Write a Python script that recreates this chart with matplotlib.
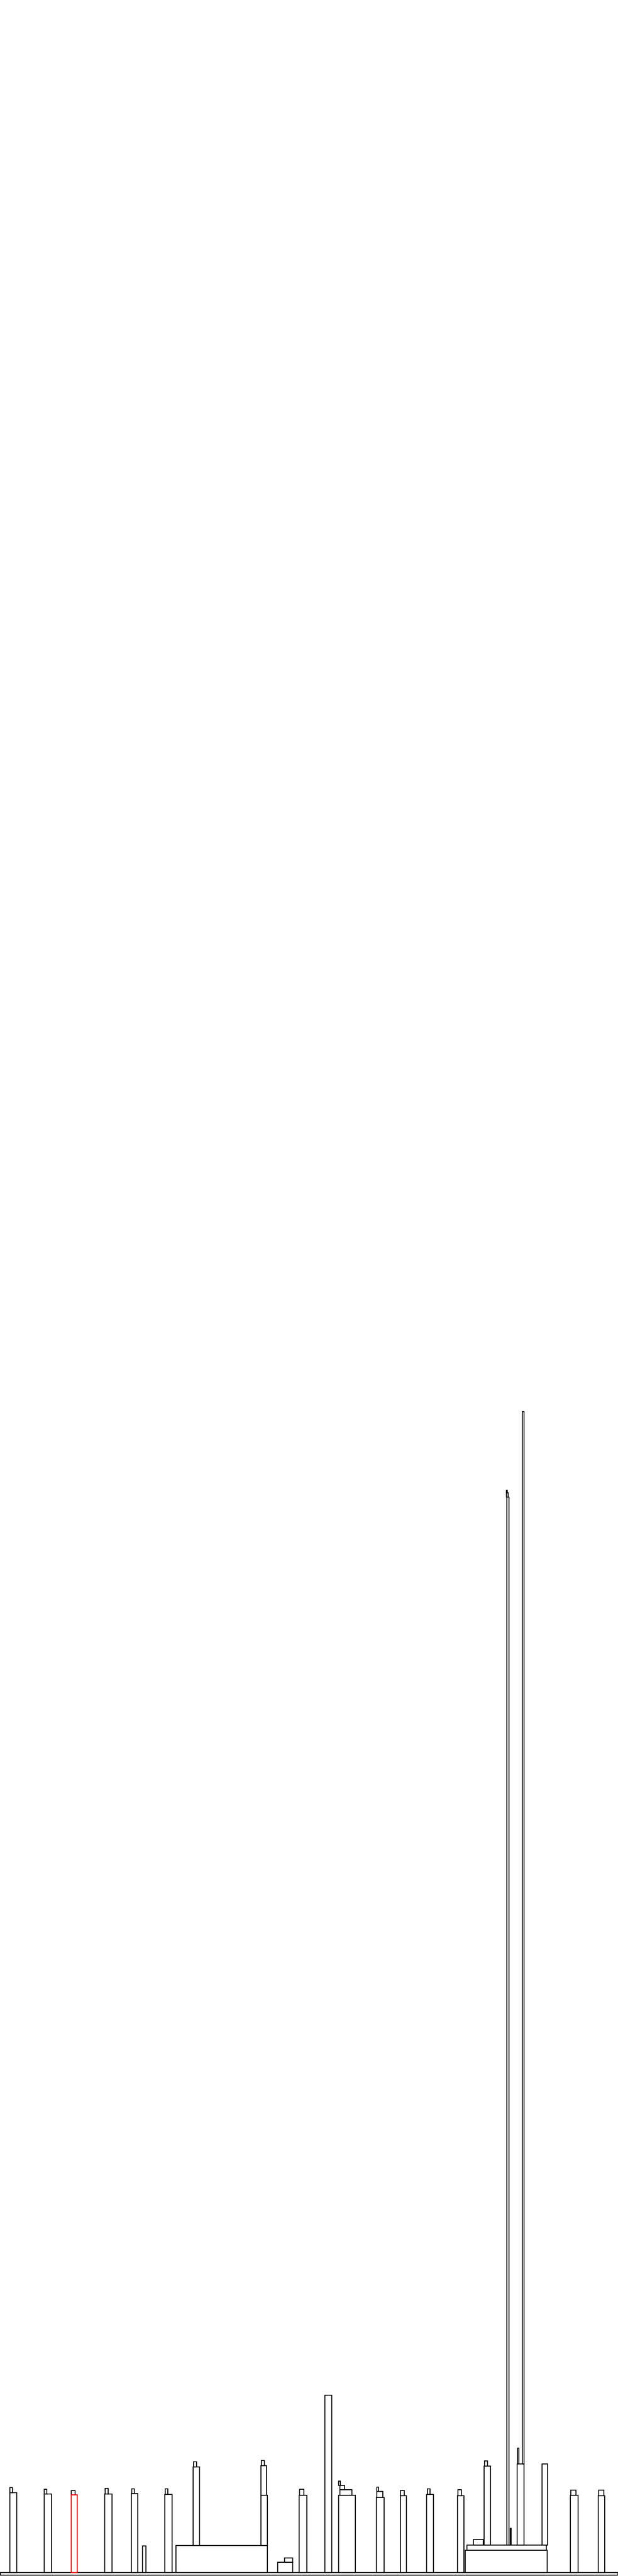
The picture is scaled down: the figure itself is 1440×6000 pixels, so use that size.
import matplotlib
matplotlib.use("Agg")
import matplotlib.pyplot as plt

# Frames of the icicle/flame-style chart (x from left, y upward from bottom)
frame_x0 = [0.5,
            23, 23.3, 103, 103.3, 166, 165.7, 244, 245, 306, 306.7, 332, 384, 385,
            410, 450, 450.7, 608, 608, 609,
            647, 663,
            697, 698.3, 757, 789, 791.7, 791.7, 789.3,
            877, 877.7, 877.7, 933, 933.3, 994, 995.7, 1066, 1066.7,
            1084, 1087.7, 1102.7, 1128.3, 1129.3,
            1180.8, 1179.5, 1179.5, 1188.5,
            1205, 1216.5, 1206, 1263.3,
            1329, 1330, 1394, 1395]
frame_x1 = [1439.5,
            39, 29.3, 120, 109.3, 180, 175, 261, 252.3, 321, 313.3, 340, 401, 391,
            623, 465, 458.3, 623, 621, 616,
            682, 682,
            715, 708.3, 773, 828, 820, 803.3, 793.3,
            895, 891.7, 882.3, 947, 941.7, 1010, 1001.7, 1081, 1075,
            1275, 1273.3, 1125.7, 1142.7, 1135.7,
            1186.4, 1184, 1181.5, 1190.5,
            1221, 1220.5, 1208.5, 1276,
            1347, 1341.7, 1409, 1406.7]
frame_y0 = [1.7,
            8.3, 194, 8.3, 191, 8.3, 189, 8.3, 191, 8.3, 192, 8.3, 8.3, 190,
            8.3, 71, 254, 71, 188, 257,
            8.3, 32,
            8.3, 188, 8.3, 8.3, 188, 200.7, 211.3,
            8.3, 183, 196.7, 8.3, 187, 8.3, 190, 8.3, 187,
            8.3, 60, 71.7, 71.7, 256,
            71.7, 2513, 2523, 71.7,
            71.7, 260.7, 260.7, 71.7,
            8.3, 188, 8.3, 187]
frame_y1 = [8.3,
            194, 206, 191, 202.3, 189, 199, 191, 204.3, 192, 203.3, 70, 190, 203.3,
            71, 254, 266, 188, 257, 269,
            32, 42,
            188, 202.3, 421, 188, 200.7, 211.3, 220.7,
            183, 196.7, 206.7, 187, 199, 190, 203.3, 187, 201,
            60, 71.7, 85, 256, 268.3,
            2513, 2523, 2529, 111,
            260.7, 2712, 298, 260.7,
            188, 200, 187, 200]
# index of the highlighted (red) frame
highlight = [5]

W, H = 1440, 6000
fig = plt.figure(figsize=(W / 100, H / 100), dpi=100)
ax = fig.add_axes([0, 0, 1, 1])
ax.set_xlim(0, W)
ax.set_ylim(0, H)
ax.axis("off")

lefts = frame_x0
widths = [b - a for a, b in zip(frame_x0, frame_x1)]
bottoms = frame_y0
heights = [b - a for a, b in zip(frame_y0, frame_y1)]

normal = [i for i in range(len(lefts)) if i not in highlight]
ax.bar([lefts[i] for i in normal], [heights[i] for i in normal],
       width=[widths[i] for i in normal], bottom=[bottoms[i] for i in normal],
       align="edge", facecolor="white", edgecolor="black", linewidth=1.6)
ax.bar([lefts[i] for i in highlight], [heights[i] for i in highlight],
       width=[widths[i] for i in highlight], bottom=[bottoms[i] for i in highlight],
       align="edge", facecolor="white", edgecolor="red", linewidth=1.6, zorder=3)

fig.savefig("out.png", dpi=100, facecolor="white")
